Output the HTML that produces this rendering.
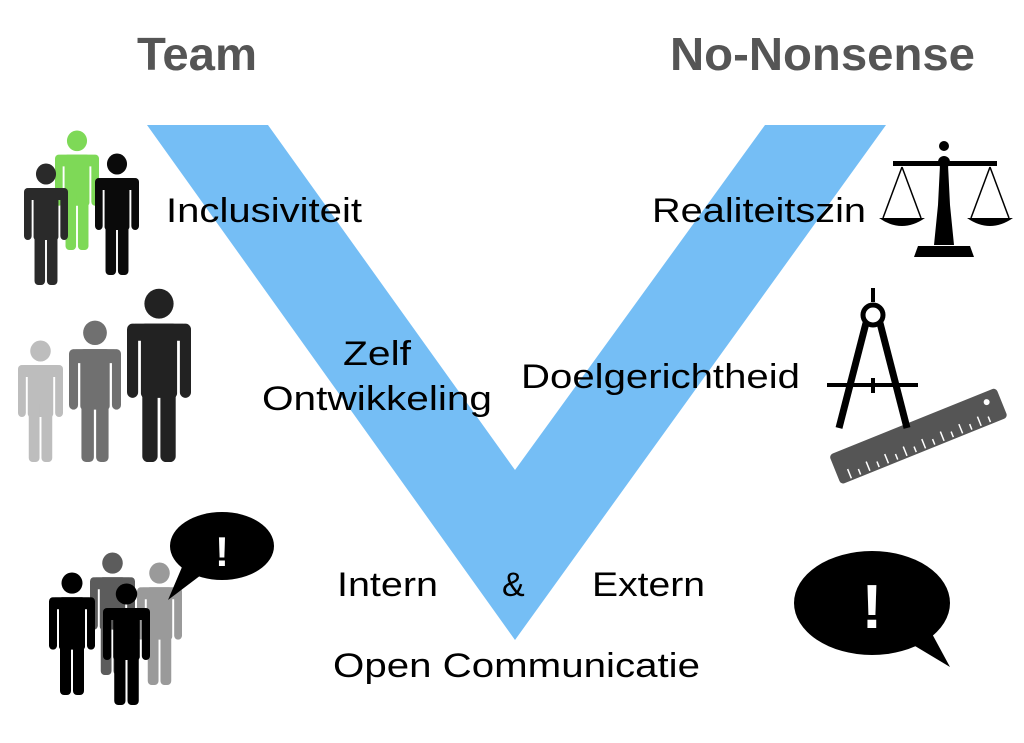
<!DOCTYPE html>
<html><head><meta charset="utf-8"><style>
html,body{margin:0;padding:0;background:#fff;}
svg{display:block;}
text{font-family:"Liberation Sans",Arial,sans-serif;}
</style></head><body>
<svg width="1024" height="743" viewBox="0 0 1024 743" xmlns="http://www.w3.org/2000/svg">
<defs>
<symbol id="p" viewBox="0 0 46 122" preserveAspectRatio="none">
<circle cx="23" cy="11" r="10.5"/>
<rect x="0" y="25" width="46" height="12" rx="6"/>
<rect x="0" y="25" width="8" height="52" rx="4"/>
<rect x="38" y="25" width="8" height="52" rx="4"/>
<rect x="10" y="25" width="26" height="52" rx="3"/>
<rect x="11" y="60" width="11" height="62" rx="4"/>
<rect x="24" y="60" width="11" height="62" rx="4"/>
</symbol>
</defs>
<polygon points="147,125 268,125 515,470 765,125 886,125 515,640" fill="#75BEF5"/>

<text x="137" y="70" font-size="46" font-weight="bold" fill="#555" textLength="120" lengthAdjust="spacingAndGlyphs">Team</text>
<text x="670" y="70" font-size="46" font-weight="bold" fill="#555" textLength="305" lengthAdjust="spacingAndGlyphs">No-Nonsense</text>

<g font-size="34" fill="#000">
<text x="166" y="222" textLength="196" lengthAdjust="spacingAndGlyphs">Inclusiviteit</text>
<text x="652" y="222" textLength="214" lengthAdjust="spacingAndGlyphs">Realiteitszin</text>
<text x="343" y="365" textLength="68" lengthAdjust="spacingAndGlyphs">Zelf</text>
<text x="262" y="410" textLength="230" lengthAdjust="spacingAndGlyphs">Ontwikkeling</text>
<text x="521" y="388" textLength="279" lengthAdjust="spacingAndGlyphs">Doelgerichtheid</text>
<text x="337" y="596" textLength="101" lengthAdjust="spacingAndGlyphs">Intern</text>
<text x="502" y="596">&amp;</text>
<text x="592" y="596" textLength="113" lengthAdjust="spacingAndGlyphs">Extern</text>
<text x="333" y="677" textLength="367" lengthAdjust="spacingAndGlyphs">Open Communicatie</text>
</g>

<use href="#p" x="55" y="130" width="44" height="120" fill="#7ED957"/>
<use href="#p" x="24" y="163" width="44" height="122" fill="#2a2a2a"/>
<use href="#p" x="95" y="153" width="44" height="122" fill="#0a0a0a"/>
<use href="#p" x="18" y="340" width="45" height="122" fill="#bdbdbd"/>
<use href="#p" x="69" y="320" width="52" height="142" fill="#707070"/>
<use href="#p" x="127" y="288" width="64" height="174" fill="#222"/>
<use href="#p" x="90" y="552" width="45" height="123" fill="#5c5c5c"/>
<use href="#p" x="137" y="562" width="45" height="123" fill="#9a9a9a"/>
<use href="#p" x="49" y="572" width="46" height="123" fill="#000"/>
<use href="#p" x="103" y="583" width="47" height="122" fill="#000"/>
<ellipse cx="222" cy="546" rx="52" ry="34" fill="#000"/>
<polygon points="185,560 205,572 168,600" fill="#000"/>
<text x="222" y="566" font-size="42" font-weight="bold" fill="#fff" text-anchor="middle">!</text>

<ellipse cx="872" cy="603" rx="78" ry="52" fill="#000"/>
<polygon points="905,640 930,630 950,667" fill="#000"/>
<text x="872" y="628" font-size="62" font-weight="bold" fill="#fff" text-anchor="middle">!</text>

<g fill="#000" stroke="#000">
<circle cx="944" cy="146" r="5" stroke="none"/>
<rect x="893" y="161" width="104" height="5" stroke="none"/>
<circle cx="944" cy="162" r="6" stroke="none"/>
<polygon points="940,165 948,165 950,205 954,245 934,245 938,205" stroke="none"/>
<polygon points="918,246 970,246 974,257 914,257" stroke="none"/>
<line x1="902" y1="167" x2="883" y2="218" stroke-width="1.5" fill="none"/>
<line x1="902" y1="167" x2="921" y2="218" stroke-width="1.5" fill="none"/>
<line x1="990" y1="167" x2="971" y2="218" stroke-width="1.5" fill="none"/>
<line x1="990" y1="167" x2="1009" y2="218" stroke-width="1.5" fill="none"/>
<path d="M879,218 L925,218 Q902,234 879,218Z" stroke="none"/>
<path d="M967,218 L1013,218 Q990,234 967,218Z" stroke="none"/>
</g>
<g transform="translate(829,455) rotate(-22)">
<rect x="0" y="0" width="180" height="32" rx="4" fill="#555"/>
<g stroke="#fff" stroke-width="1.5">
<line x1="12" y1="30" x2="12" y2="20"/><line x1="22" y1="30" x2="22" y2="24"/><line x1="32" y1="30" x2="32" y2="20"/><line x1="42" y1="30" x2="42" y2="24"/><line x1="52" y1="30" x2="52" y2="20"/><line x1="62" y1="30" x2="62" y2="24"/><line x1="72" y1="30" x2="72" y2="20"/><line x1="82" y1="30" x2="82" y2="24"/><line x1="92" y1="30" x2="92" y2="20"/><line x1="102" y1="30" x2="102" y2="24"/><line x1="112" y1="30" x2="112" y2="20"/><line x1="122" y1="30" x2="122" y2="24"/><line x1="132" y1="30" x2="132" y2="20"/><line x1="142" y1="30" x2="142" y2="24"/><line x1="152" y1="30" x2="152" y2="20"/><line x1="162" y1="30" x2="162" y2="24"/>
</g>
<circle cx="166" cy="10" r="3" fill="#fff"/>
</g>
<g stroke="#000" fill="none">
<line x1="873" y1="288" x2="873" y2="302" stroke-width="4"/>
<circle cx="873" cy="315" r="10" stroke-width="5"/>
<line x1="866" y1="323" x2="839" y2="428" stroke-width="7"/>
<line x1="880" y1="323" x2="907" y2="428" stroke-width="7"/>
<line x1="827" y1="385" x2="918" y2="385" stroke-width="4"/>
<line x1="873" y1="378" x2="873" y2="393" stroke-width="4"/>
</g>
</svg>
</body></html>
